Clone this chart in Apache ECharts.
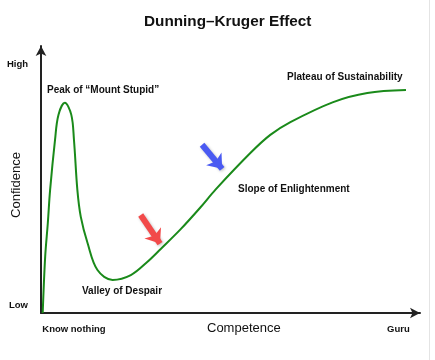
<!DOCTYPE html>
<html>
<head>
<meta charset="utf-8">
<script src="https://cdn.jsdelivr.net/npm/echarts@6/dist/echarts.min.js"></script>
<style>
html,body{margin:0;padding:0;background:#fff;}
#chart{width:435px;height:360px;}
</style>
</head>
<body>
<div id="chart"></div>
<script>
// Curve: competence (x) vs confidence (y), 0..100 scales
var competence = [0.45, 1.1, 1.8, 2.4, 3.7, 4.6, 6.3, 8.0, 8.7, 9.6, 10.5, 12.3, 14.9, 18.9, 23.7, 28.1, 31.6, 36.8, 42.1, 46.1, 55.3, 60.5, 65.8, 77.1, 86.1, 96.3];
var confidence = [0, 21, 33.7, 46, 64.8, 74.2, 78.7, 74.2, 64.8, 46, 36, 26.1, 16.1, 12.4, 14.2, 19.2, 24.0, 31.3, 39.6, 46.3, 60, 66.7, 71.5, 79, 82.4, 83.5];

var yTickValues = [3, 93];
var yTickLabels = ['Low', 'High'];
var xTickValues = [8.7, 94.3];
var xTickLabels = ['Know nothing', 'Guru'];

// Arrow annotations: [startX, startY, endX, endY]
var redArrow = [26.3, 36.7, 31.4, 26];
var blueArrow = [42.5, 63, 47.8, 54];

var stages = ['Peak of \u201cMount Stupid\u201d', 'Valley of Despair', 'Slope of Enlightenment', 'Plateau of Sustainability'];

var points = competence.map(function (x, i) { return [x, confidence[i]]; });

function arrowLine(a, color) {
  return [
    { coord: [a[0], a[1]], lineStyle: { color: color } },
    { coord: [a[2], a[3]] }
  ];
}

var chart = echarts.init(document.getElementById('chart'));
var FF = 'Liberation Sans, Arial, sans-serif';
var bold = { fontFamily: FF, fontWeight: 'bold', fontSize: 10, fill: '#111' };

chart.setOption({
  animation: false,
  backgroundColor: '#fff',
  title: {
    text: 'Dunning\u2013Kruger Effect',
    left: 139,
    top: 9,
    textStyle: { fontFamily: FF, fontSize: 15.3, fontWeight: 'bold', color: '#111' }
  },
  grid: { left: 41, right: 15, top: 46, bottom: 47, containLabel: false, outerBoundsMode: 'none' },
  xAxis: {
    type: 'value', min: 0, max: 100,
    splitLine: { show: false },
    axisLine: { lineStyle: { color: '#222', width: 2 }, symbol: ['none', 'arrow'], symbolSize: [8, 10] },
    axisTick: { show: false },
    axisLabel: {
      customValues: xTickValues,
      formatter: function (v) { var i = xTickValues.indexOf(v); return i >= 0 ? xTickLabels[i] : ''; },
      fontFamily: FF, fontWeight: 'bold', fontSize: 9.5, color: '#111', margin: 11
    }
  },
  yAxis: {
    type: 'value', min: 0, max: 100,
    splitLine: { show: false },
    axisLine: { show: true, lineStyle: { color: '#222', width: 2 }, symbol: ['none', 'arrow'], symbolSize: [8, 10] },
    axisTick: { show: false },
    axisLabel: {
      customValues: yTickValues,
      formatter: function (v) { var i = yTickValues.indexOf(v); return i >= 0 ? yTickLabels[i] : ''; },
      fontFamily: FF, fontWeight: 'bold', fontSize: 9.5, color: '#111', margin: 13
    }
  },
  series: [{
    type: 'line',
    data: points,
    smooth: 0.35,
    showSymbol: false,
    lineStyle: { color: '#1a8a1a', width: 2 },
    markLine: {
      silent: true,
      symbol: ['none', 'arrow'],
      symbolSize: [15, 13],
      label: { show: false },
      lineStyle: { type: 'solid', width: 6, shadowBlur: 3, shadowColor: 'rgba(0,0,0,0.25)', shadowOffsetX: 1, shadowOffsetY: 1 },
      data: [arrowLine(redArrow, '#f24a4a'), arrowLine(blueArrow, '#4a5af2')]
    }
  }],
  graphic: [
    { type: 'text', left: 47, top: 85, style: Object.assign({ text: stages[0] }, bold) },
    { type: 'text', left: 82, top: 286, style: Object.assign({ text: stages[1] }, bold) },
    { type: 'text', left: 238, top: 184, style: Object.assign({ text: stages[2] }, bold) },
    { type: 'text', left: 287, top: 72, style: Object.assign({ text: stages[3] }, bold) },
    { type: 'text', left: 207, top: 322, style: { text: 'Competence', fontFamily: FF, fontSize: 13, fill: '#111' } },
    { type: 'text', x: 16, y: 185, rotation: Math.PI / 2, style: { text: 'Confidence', fontFamily: FF, fontSize: 13, fill: '#111', align: 'center', verticalAlign: 'middle' } },
    { type: 'line', shape: { x1: 429.5, y1: 0, x2: 429.5, y2: 360 }, style: { stroke: '#e4e4e4', lineWidth: 1 } }
  ]
});
</script>
</body>
</html>
